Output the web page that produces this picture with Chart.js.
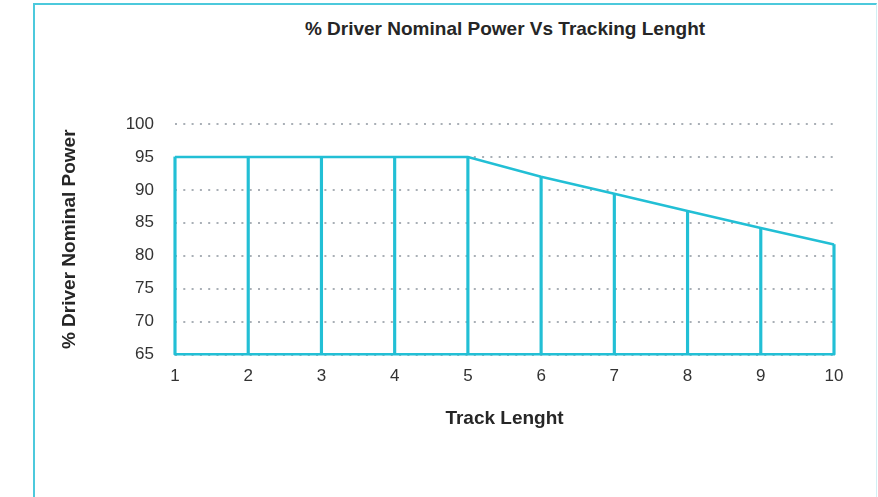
<!DOCTYPE html>
<html lang="en">
<head>
    <meta charset="UTF-8">
    <title>% Driver Nominal Power Vs Tracking Lenght</title>
    <script src="https://cdn.jsdelivr.net/npm/chart.js"></script>
    <style>
        *{
            margin: 0;
            padding: 0;
        }
        body, html{
            width: 878px;
            height: 497px;
            overflow: hidden;
            background: white;
            font-family: 'Liberation Sans', Arial, sans-serif;
        }
        #frame{
            position: absolute;
            left: 33px;
            top: 3px;
            width: 841px;
            height: 600px;
            border-top: 2px solid #4cc9dc;
            border-left: 2px solid #4cc9dc;
            border-right: 1px solid #d2eff4;
        }
        #title{
            position: absolute;
            left: 175px;
            width: 660px;
            top: 18px;
            line-height: 22px;
            text-align: center;
            font-weight: bold;
            font-size: 19px;
            color: #262626;
        }
        #wrap{
            position: absolute;
            left: 0;
            top: 0;
            width: 878px;
            height: 497px;
        }
    </style>
</head>
<body>
    <div id="frame"></div>
    <div id="title">% Driver Nominal Power Vs Tracking Lenght</div>
    <div id="wrap"><canvas id="chart"></canvas></div>
    <script>
        // track length steps and the matching nominal power (%)
        const trackLength = [1, 2, 3, 4, 5, 6, 7, 8, 9, 10]
        const nominalPower = [95, 95, 95, 95, 95, 92, 89.4, 86.8, 84.2, 81.7]
        const yTicks = [65, 70, 75, 80, 85, 90, 95, 100]

        const cyan = '#22bfd5'
        const tickFont = {family: "'Liberation Sans', Arial, sans-serif", size: 17}
        const titleFont = {family: "'Liberation Sans', Arial, sans-serif", size: 19, weight: 'bold'}

        const linePoints = trackLength.map((x, i) => ({x: x, y: nominalPower[i]}))
        // thin floating bars drop from the axis floor up to each point
        const drops = trackLength.map((x, i) => ({x: x, y: [yTicks[0], nominalPower[i]]}))

        const chart = new Chart(document.getElementById('chart'), {
            type: 'bar',
            data: {
                datasets: [{
                    type: 'line',
                    data: linePoints,
                    borderColor: cyan,
                    borderWidth: 2.5,
                    pointRadius: 0,
                    tension: 0,
                    clip: false
                },
                {
                    type: 'bar',
                    data: drops,
                    backgroundColor: cyan,
                    barThickness: 2.5,
                    borderWidth: 0,
                    clip: false
                }]
            },
            options: {
                responsive: true,
                maintainAspectRatio: false,
                animation: false,
                layout: {padding: {top: 124, right: 44, left: 0, bottom: 0}},
                plugins: {
                    legend: {display: false},
                    tooltip: {enabled: false}
                },
                scales: {
                    x: {
                        type: 'linear',
                        min: 1,
                        max: 10,
                        offset: false,
                        grid: {display: false, offset: false},
                        border: {display: true, color: cyan, width: 2.5},
                        ticks: {stepSize: 1, color: '#333', font: tickFont, padding: 4},
                        title: {display: true, text: 'Track Lenght', color: '#262626', font: titleFont, padding: {top: 4, bottom: 67}},
                        afterFit: (scale) => { scale.height = 142.5 }
                    },
                    y: {
                        min: 65,
                        max: 100,
                        afterBuildTicks: (scale) => { scale.ticks = yTicks.map(v => ({value: v})) },
                        grid: {color: '#a9afb6', lineWidth: 2, drawTicks: false},
                        border: {display: false, dash: [2, 6.3]},
                        ticks: {color: '#333', font: tickFont, padding: 21},
                        title: {display: true, text: '% Driver Nominal Power', color: '#262626', font: titleFont, padding: {top: 58.6, bottom: 4}},
                        afterFit: (scale) => { scale.width = 175 }
                    }
                }
            }
        })
    </script>
</body>
</html>
